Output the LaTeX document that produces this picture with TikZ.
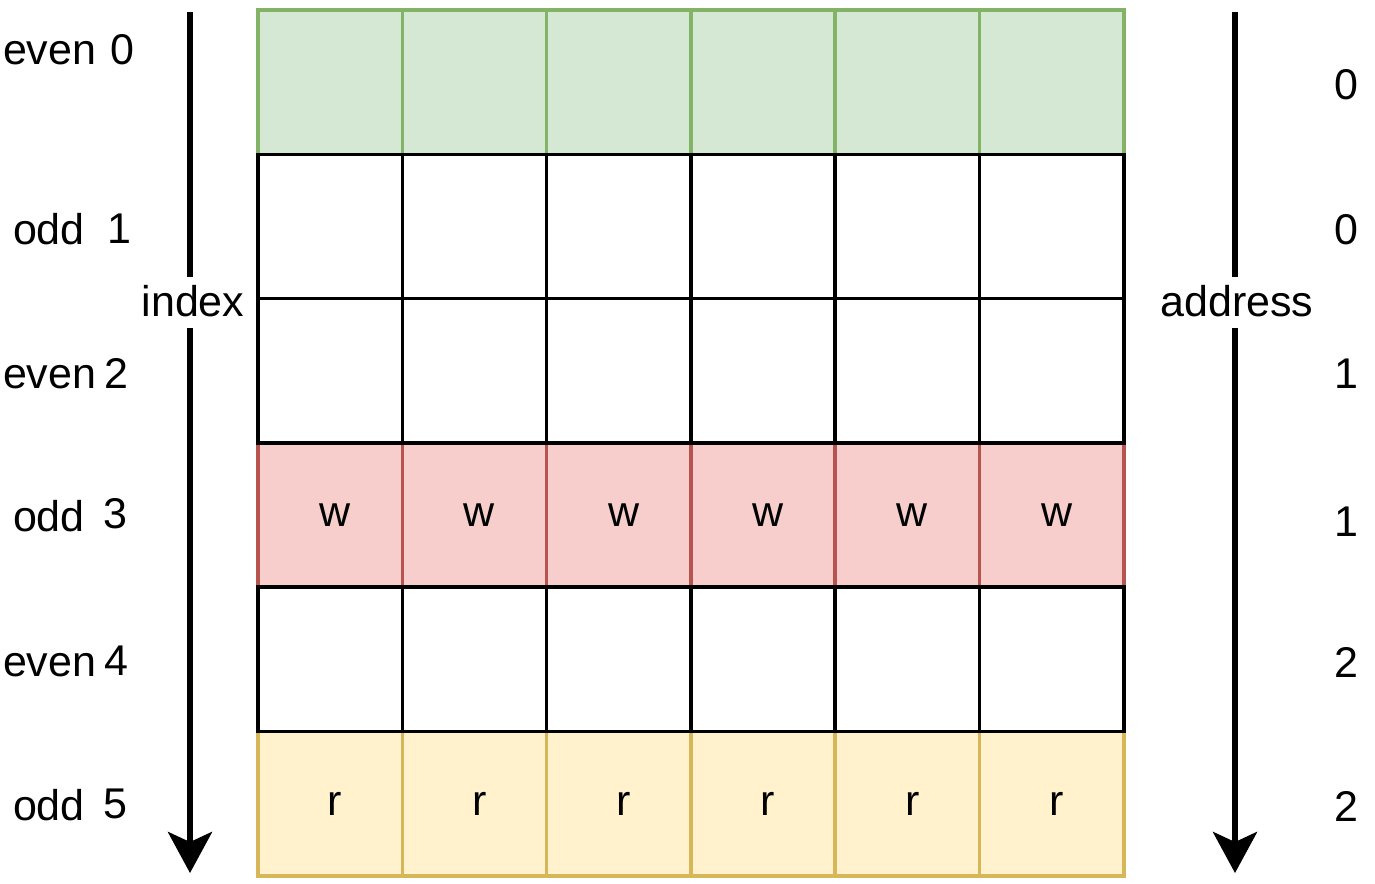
\documentclass[tikz,border=0pt]{standalone}
\usepackage{fontspec}
\setmainfont{Liberation Sans}
\usetikzlibrary{arrows.meta}
\definecolor{gfill}{HTML}{D5E8D4}
\definecolor{gstroke}{HTML}{82B366}
\definecolor{rfill}{HTML}{F8CECC}
\definecolor{rstroke}{HTML}{B85450}
\definecolor{yfill}{HTML}{FFF2CC}
\definecolor{ystroke}{HTML}{D6B656}
\begin{document}
\begin{tikzpicture}[x=1pt,y=-1pt,
  bigfont/.style={font=\fontsize{43}{48}\selectfont},
  cell/.style={draw=black, fill=white, line width=3.5pt, minimum width=144.3pt, minimum height=144.3pt, inner sep=0pt, outer sep=0pt, bigfont},
  greencell/.style={cell, draw=gstroke, fill=gfill},
  redcell/.style={cell, draw=rstroke, fill=rfill},
  yellowcell/.style={cell, draw=ystroke, fill=yfill},
  whitecell/.style={cell},
  lbl/.style={inner sep=0pt, outer sep=0pt, anchor=base west, bigfont},
  num/.style={inner sep=0pt, outer sep=0pt, anchor=base, bigfont},
  axislabel/.style={inner sep=0pt, outer sep=0pt, minimum height=51pt, text height=31pt, text depth=4pt, bigfont},
  axis/.style={line width=6pt},
  axisarrow/.style={axis, -{Stealth[length=41pt,width=44pt,inset=10pt]}}
]
\useasboundingbox (0,0) rectangle (1375,883);
% coloured rows
\foreach \r/\sty/\txt in {0/greencell/{},3/redcell/{\hspace*{10pt}w},5/yellowcell/{\hspace*{10pt}r}}{
  \foreach \c in {0,...,5}{
    \node[\sty] (c\r\c) at ({258+144.3*(\c+0.5)},{10+144.3*(\r+0.5)}) {\txt};
  }
}
% white rows
\foreach \r in {1,2,4}{
  \foreach \c in {0,...,5}{
    \node[whitecell] (c\r\c) at ({258+144.3*(\c+0.5)},{10+144.3*(\r+0.5)}) {};
  }
}
% left labels
\node[lbl] (w0) at (3,64) {even};
\node[lbl] (d0) at (110,64) {0};
\node[lbl] (w1) at (13,244) {odd};
\node[lbl] (d1) at (107,243) {1};
\node[lbl] (w2) at (3,388) {even};
\node[lbl] (d2) at (104,388) {2};
\node[lbl] (w3) at (13,531) {odd};
\node[lbl] (d3) at (103,528) {3};
\node[lbl] (w4) at (3,676) {even};
\node[lbl] (d4) at (104,675) {4};
\node[lbl] (w5) at (13,820) {odd};
\node[lbl] (d5) at (103.5,818) {5};
% right labels
\node[num] (a0) at (1346,99) {0};
\node[num] (a1) at (1346,244) {0};
\node[num] (a2) at (1346,388) {1};
\node[num] (a3) at (1346,536) {1};
\node[num] (a4) at (1346,677) {2};
\node[num] (a5) at (1346,821) {2};
% index axis
\coordinate (iTop) at (190,12);
\coordinate (iBot) at (190,873);
\node[axislabel] (index) at (193,302.5) {index};
\draw[axis] (iTop) -- (iTop |- index.north);
\draw[axisarrow] (iTop |- index.south) -- (iBot);
% address axis
\coordinate (aTop) at (1235,12);
\coordinate (aBot) at (1235,873);
\node[axislabel] (address) at (1237,302.5) {address};
\draw[axis] (aTop) -- (aTop |- address.north);
\draw[axisarrow] (aTop |- address.south) -- (aBot);
\end{tikzpicture}
\end{document}
